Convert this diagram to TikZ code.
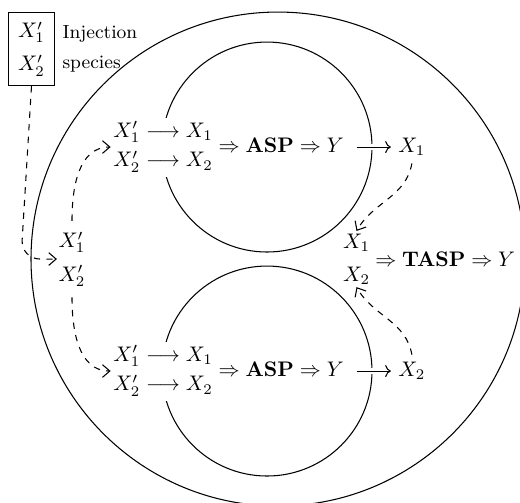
\documentclass[tikz,border=0pt]{standalone}
\usetikzlibrary{positioning,arrows.meta}

\begin{document}
\begin{tikzpicture}[
  line width=0.5pt,
  row/.style={fill=white, inner sep=1pt},
  pair/.style={align=center, inner sep=1pt},
  injbox/.style={draw, align=center, inner sep=4.5pt},
  flow/.style={-{Straight Barb[length=3.5pt,width=6pt]}, dashed},
  arr/.style={->, preaction={draw=white, line width=3pt}}
]
\useasboundingbox (-4.634,-4.051) rectangle (4.034,4.318);
% ---------------- circles ----------------
\draw (0,0) circle (4.117);
\draw (-0.183,1.867) circle (1.75);
\draw (-0.183,-1.867) circle (1.75);
% ---------------- injection ----------------
\node[injbox] (inj) at (-4.109,3.501) {$X'_1$\\[3.8pt]$X'_2$};
\node[right=0pt of inj, align=left, font=\small] (injt) {Injection\\[3pt]species};
\node[pair, inner xsep=0.5pt, inner ysep=5pt] (mid) at (-3.434,0) {$X'_1$\\[3.8pt]$X'_2$};
\coordinate (bend) at (-4.284,0);
% ---------------- two ASP ----------------
\node[row] (r1) at (-0.825,1.867)
  {$\begin{array}{@{}l@{}} X'_1 \longrightarrow X_1\\[2pt] X'_2 \longrightarrow X_2 \end{array}
   \Rightarrow \mathbf{ASP} \Rightarrow Y$};
\node[right=0.742cm of r1] (o1) {$X_1$};
\node[row] (r2) at (-0.825,-1.867)
  {$\begin{array}{@{}l@{}} X'_1 \longrightarrow X_1\\[2pt] X'_2 \longrightarrow X_2 \end{array}
   \Rightarrow \mathbf{ASP} \Rightarrow Y$};
\node[right=0.742cm of r2] (o2) {$X_2$};
\draw[arr, shorten <=5pt] (r1) -- (o1);
\draw[arr, shorten <=5pt] (r2) -- (o2);
% ---------------- TASP ----------------
\node[pair] (tin) at (1.309,0) {$X_1$\\[3.8pt]$X_2$};
\node[right=0pt of tin, inner sep=1pt] (tasp) {$\Rightarrow \mathbf{TASP} \Rightarrow Y$};
% ---------------- dashed links ----------------
\draw[flow, rounded corners=9pt] (inj.south) -- (bend) -- (mid.west);
\draw[flow] (mid.north) to[out=90,in=180] (r1.west);
\draw[flow] (mid.south) to[out=-90,in=180] (r2.west);
\draw[flow] (o1.south) to[out=-100,in=60] (tin.north);
\draw[flow] (o2.north) to[out=100,in=-60] (tin.south);
\end{tikzpicture}
\end{document}
